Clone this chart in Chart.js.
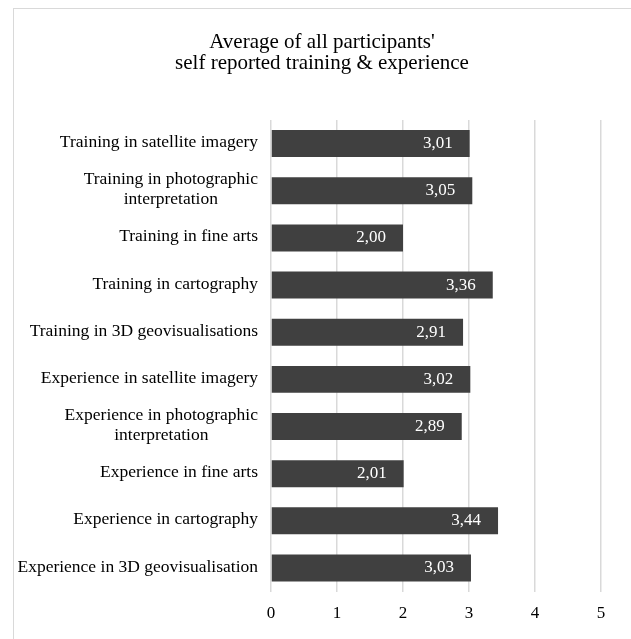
<!DOCTYPE html>
<html>
<head>
<meta charset="utf-8">
<script src="https://cdn.jsdelivr.net/npm/chart.js@4"></script>
<style>
  html, body { margin: 0; padding: 0; background: #fff; }
  #wrap { position: relative; width: 631px; height: 639px; overflow: hidden; }
  #frame { position: absolute; left: 13px; top: 8px; width: 640px; height: 660px; border: 1px solid #d9d9d9; box-sizing: border-box; }
  canvas { position: absolute; left: 0; top: 0; }
</style>
</head>
<body>
<div id="wrap">
  <div id="frame"></div>
  <canvas id="chart" width="631" height="639"></canvas>
</div>
<script>
const titleLines = ["Average of all participants'", "self reported training & experience"];

const categories = [
  ["Training in satellite imagery"],
  ["Training in photographic", "interpretation"],
  ["Training in fine arts"],
  ["Training in cartography"],
  ["Training in 3D geovisualisations"],
  ["Experience in satellite imagery"],
  ["Experience in photographic", "interpretation"],
  ["Experience in fine arts"],
  ["Experience in cartography"],
  ["Experience in 3D geovisualisation"]
];

const averages = [3.01, 3.05, 2.00, 3.36, 2.91, 3.02, 2.89, 2.01, 3.44, 3.03];

const xTicks = [0, 1, 2, 3, 4, 5];

const serif = "'Liberation Serif', 'Times New Roman', serif";

// title, category labels and value labels drawn by hand
const extras = {
  id: 'extras',
  afterDraw(chart) {
    const ctx = chart.ctx;
    ctx.save();

    // title
    ctx.fillStyle = '#000';
    ctx.font = '21px ' + serif;
    ctx.textAlign = 'center';
    ctx.textBaseline = 'middle';
    ctx.fillText(titleLines[0], 322, 42);
    ctx.fillText(titleLines[1], 322, 63);

    // category labels, lines centred on each other
    const y = chart.scales.y;
    ctx.font = '17.5px ' + serif;
    categories.forEach((lines, i) => {
      const cy = y.getPixelForValue(i);
      let w = 0;
      lines.forEach(l => { w = Math.max(w, ctx.measureText(l).width); });
      const cx = 258 - w / 2;
      const lh = 20;
      const top = cy - 1 - (lines.length - 1) * lh / 2;
      lines.forEach((l, j) => ctx.fillText(l, cx, top + j * lh));
    });

    // values inside bar ends
    const meta = chart.getDatasetMeta(0);
    ctx.fillStyle = '#fff';
    ctx.font = '17px ' + serif;
    ctx.textAlign = 'right';
    meta.data.forEach((bar, i) => {
      ctx.fillText(averages[i].toFixed(2).replace('.', ','), bar.x - 17, bar.y);
    });
    ctx.restore();
  }
};

new Chart(document.getElementById('chart'), {
  type: 'bar',
  data: {
    labels: categories.map(c => c.join(' ')),
    datasets: [{
      data: averages,
      backgroundColor: '#404040',
      borderWidth: 0,
      barPercentage: 0.572,
      categoryPercentage: 1
    }]
  },
  options: {
    indexAxis: 'y',
    responsive: false,
    animation: false,
    layout: { padding: { top: 120, right: 30, bottom: 3, left: 0 } },
    plugins: {
      legend: { display: false },
      title: { display: false },
      tooltip: { enabled: false }
    },
    scales: {
      x: {
        min: 0,
        max: 5,
        afterBuildTicks: s => { s.ticks = xTicks.map(v => ({ value: v })); },
        grid: { color: '#d9d9d9', lineWidth: 1.5, drawTicks: false },
        border: { display: false },
        ticks: { color: '#000', font: { family: serif, size: 17 }, padding: 12 }
      },
      y: {
        afterFit: s => { s.width = 271; },
        grid: { display: false },
        border: { display: false },
        ticks: { display: false }
      }
    }
  },
  plugins: [extras]
});
</script>
</body>
</html>
